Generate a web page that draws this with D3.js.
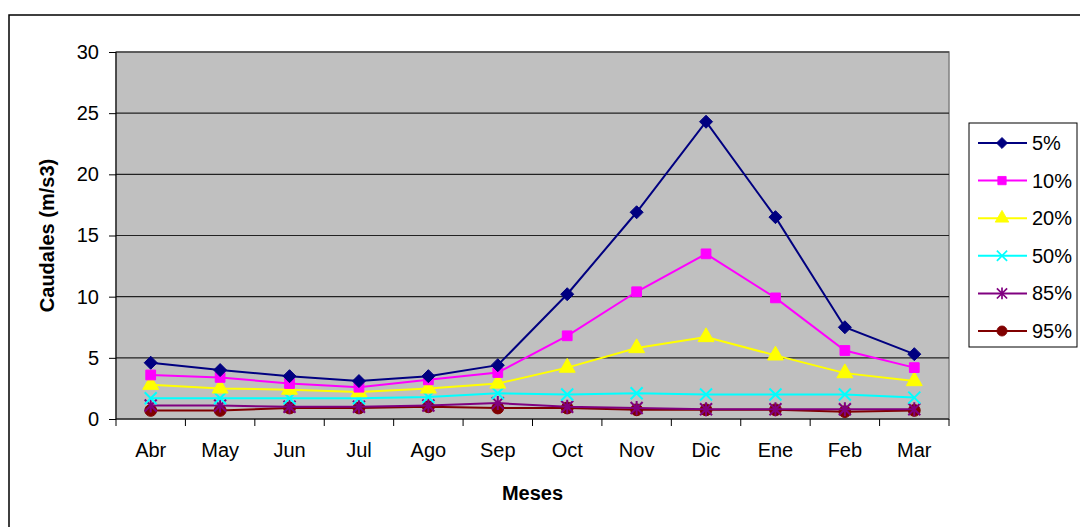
<!DOCTYPE html>
<html>
<head>
<meta charset="utf-8">
<script src="https://cdn.jsdelivr.net/npm/d3@7"></script>
<style>
  body { margin: 0; background: #fff; }
  svg { font-family: "Liberation Sans", Arial, sans-serif; }
</style>
</head>
<body>
<script>
var months = ["Abr", "May", "Jun", "Jul", "Ago", "Sep", "Oct", "Nov", "Dic", "Ene", "Feb", "Mar"];
var seriesNames = ["5%", "10%", "20%", "50%", "85%", "95%"];
var yTicks = [0, 5, 10, 15, 20, 25, 30];

var q5 = [4.6, 4.0, 3.5, 3.1, 3.5, 4.4, 10.2, 16.9, 24.3, 16.5, 7.5, 5.3];
var q10 = [3.6, 3.4, 2.9, 2.6, 3.2, 3.8, 6.8, 10.4, 13.5, 9.9, 5.6, 4.2];
var q20 = [2.8, 2.5, 2.4, 2.2, 2.5, 2.9, 4.2, 5.8, 6.7, 5.2, 3.75, 3.1];
var q50 = [1.7, 1.7, 1.7, 1.7, 1.8, 2.1, 2.0, 2.1, 2.0, 2.0, 2.0, 1.75];
var q85 = [1.1, 1.1, 1.0, 1.0, 1.1, 1.3, 1.0, 0.9, 0.8, 0.8, 0.8, 0.8];
var q95 = [0.7, 0.7, 0.9, 0.9, 1.0, 0.9, 0.9, 0.75, 0.75, 0.75, 0.6, 0.7];

var colors = ["#000080", "#FF00FF", "#FFFF00", "#00FFFF", "#800080", "#800000"];
var symbols = ["diamond", "square", "triangle", "x", "star", "circle"];
var allValues = [q5, q10, q20, q50, q85, q95];

var width = 1080,
  height = 527;

var svg = d3
  .select("body")
  .append("svg")
  .attr("width", width)
  .attr("height", height);

// outer chart frame
svg
  .append("rect")
  .attr("x", 9)
  .attr("y", 15)
  .attr("width", 1090)
  .attr("height", 530)
  .attr("fill", "#fff")
  .attr("stroke", "#000")
  .attr("stroke-width", 1.5);

var plot = { left: 116, right: 949, top: 52, bottom: 419 };

var x = d3
  .scaleBand()
  .domain(months)
  .range([plot.left, plot.right]);

var y = d3
  .scaleLinear()
  .domain([0, 30])
  .range([plot.bottom, plot.top]);

// plot area
svg
  .append("rect")
  .attr("x", plot.left)
  .attr("y", plot.top)
  .attr("width", plot.right - plot.left)
  .attr("height", plot.bottom - plot.top)
  .attr("fill", "#C0C0C0")
  .attr("stroke", "#808080")
  .attr("stroke-width", 1.5);

// gridlines
svg
  .append("g")
  .selectAll("line")
  .data(yTicks.slice(1))
  .join("line")
  .attr("x1", plot.left)
  .attr("x2", plot.right)
  .attr("y1", function(d) { return y(d); })
  .attr("y2", function(d) { return y(d); })
  .attr("stroke", "#222")
  .attr("stroke-width", 1.2);

// y axis
var yAxis = svg
  .append("g")
  .attr("transform", "translate(" + plot.left + ",0)")
  .call(d3.axisLeft(y).tickValues(yTicks).tickSize(7).tickPadding(10));
yAxis.selectAll("text").attr("font-size", 20).attr("fill", "#000").attr("font-family", "Liberation Sans, Arial, sans-serif");
yAxis.selectAll("line, path").attr("stroke", "#000");
yAxis.select("path").attr("d", "M0," + plot.top + "V" + plot.bottom);

// x axis: ticks on category boundaries
var xAxis = svg
  .append("g")
  .attr("transform", "translate(0," + plot.bottom + ")")
  .call(d3.axisBottom(x).tickSize(0).tickPadding(24));
xAxis.select("path").attr("d", "M" + plot.left + ",0H" + plot.right).attr("stroke", "#000");
xAxis.selectAll("text").attr("font-size", 20).attr("fill", "#000").attr("font-family", "Liberation Sans, Arial, sans-serif");
xAxis
  .selectAll(".bound")
  .data(months.concat(["end"]))
  .join("line")
  .attr("class", "bound")
  .attr("x1", function(d, i) { return plot.left + i * x.step(); })
  .attr("x2", function(d, i) { return plot.left + i * x.step(); })
  .attr("y1", 0)
  .attr("y2", 7)
  .attr("stroke", "#000");

// axis titles
svg
  .append("text")
  .attr("x", (plot.left + plot.right) / 2)
  .attr("y", 500)
  .attr("text-anchor", "middle")
  .attr("font-size", 20)
  .attr("font-weight", "bold")
  .text("Meses");

svg
  .append("text")
  .attr("transform", "translate(54," + (plot.top + plot.bottom) / 2 + ") rotate(-90)")
  .attr("text-anchor", "middle")
  .attr("font-size", 20)
  .attr("font-weight", "bold")
  .text("Caudales (m/s3)");

function markerPath(kind) {
  if (kind === "diamond") return "M0,-6.5L6.5,0L0,6.5L-6.5,0Z";
  if (kind === "square") return d3.symbol(d3.symbolSquare, 95)();
  if (kind === "triangle") return d3.symbol(d3.symbolTriangle, 110)();
  if (kind === "circle") return d3.symbol(d3.symbolCircle, 110)();
  if (kind === "x") return "M-6,-6L6,6M-6,6L6,-6";
  return "M-6,-6L6,6M-6,6L6,-6M0,-7V7";
}

var line = d3
  .line()
  .x(function(d, i) { return x(months[i]) + x.bandwidth() / 2; })
  .y(function(d) { return y(d); });

// draw from the lowest series up so 5% is on top
for (var s = allValues.length - 1; s >= 0; s--) {
  var g = svg.append("g");
  g.append("path")
    .datum(allValues[s])
    .attr("d", line)
    .attr("fill", "none")
    .attr("stroke", colors[s])
    .attr("stroke-width", 2);

  var kind = symbols[s];
  var open = kind === "x" || kind === "star";
  g.selectAll("path.m")
    .data(allValues[s])
    .join("path")
    .attr("class", "m")
    .attr("transform", function(d, i) {
      return "translate(" + (x(months[i]) + x.bandwidth() / 2) + "," + y(d) + ")";
    })
    .attr("d", markerPath(kind))
    .attr("fill", open ? "none" : colors[s])
    .attr("stroke", colors[s])
    .attr("stroke-width", open ? 2 : 1);
}

// legend
var legend = svg.append("g");
legend
  .append("rect")
  .attr("x", 969)
  .attr("y", 123)
  .attr("width", 108)
  .attr("height", 224)
  .attr("fill", "#fff")
  .attr("stroke", "#000")
  .attr("stroke-width", 1);

var items = legend
  .selectAll("g.item")
  .data(seriesNames)
  .join("g")
  .attr("class", "item")
  .attr("transform", function(d, i) { return "translate(0," + (143 + i * 37.6) + ")"; });

items
  .append("line")
  .attr("x1", 978)
  .attr("x2", 1027)
  .attr("stroke", function(d, i) { return colors[i]; })
  .attr("stroke-width", 2);

items
  .append("path")
  .attr("transform", "translate(1002,0) scale(0.85)")
  .attr("d", function(d, i) { return markerPath(symbols[i]); })
  .attr("fill", function(d, i) { return symbols[i] === "x" || symbols[i] === "star" ? "none" : colors[i]; })
  .attr("stroke", function(d, i) { return colors[i]; })
  .attr("stroke-width", function(d, i) { return symbols[i] === "x" || symbols[i] === "star" ? 2 : 1; });

items
  .append("text")
  .attr("x", 1032)
  .attr("y", 7)
  .attr("font-size", 20)
  .text(function(d) { return d; });
</script>
</body>
</html>
